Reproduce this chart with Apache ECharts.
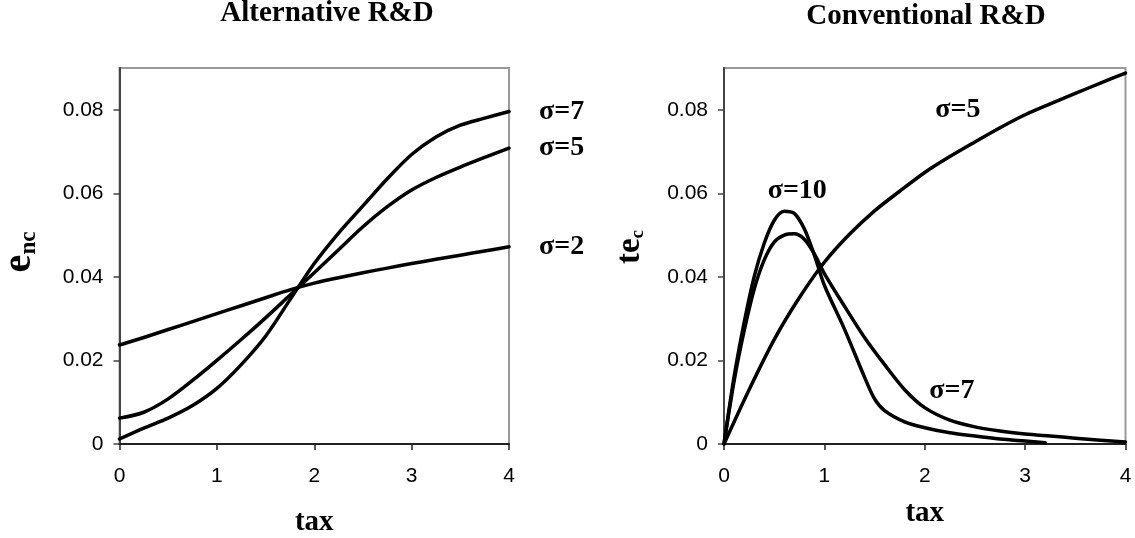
<!DOCTYPE html>
<html>
<head>
<meta charset="utf-8">
<script src="https://cdn.jsdelivr.net/npm/echarts@6/dist/echarts.min.js"></script>
<style>
html,body{margin:0;padding:0;background:#fff;}
#c{width:1135px;height:538px;}
</style>
</head>
<body>
<div id="c"></div>
<script>
// ---- data ----
const titles = ['Alternative R&D', 'Conventional R&D'];
const xTicks = [0, 1, 2, 3, 4];
const yTicks = [0, 0.02, 0.04, 0.06, 0.08];

// Left panel: e_nc vs tax
const altSigma2 = [[0,0.0237],[0.25,0.0255],[0.5,0.0274],[0.75,0.0293],[1,0.0312],[1.25,0.0331],[1.5,0.0350],[1.75,0.0369],[2,0.0385],[2.25,0.0398],[2.5,0.0410],[2.75,0.0421],[3,0.0432],[3.25,0.0442],[3.5,0.0452],[3.75,0.0462],[4,0.0472]];
const altSigma5 = [[0,0.0062],[0.25,0.0076],[0.5,0.0108],[0.75,0.0152],[1,0.0200],[1.25,0.0250],[1.5,0.0302],[1.75,0.0356],[2,0.0410],[2.25,0.0465],[2.5,0.0520],[2.75,0.0568],[3,0.0608],[3.25,0.0638],[3.5,0.0663],[3.75,0.0686],[4,0.0708]];
const altSigma7 = [[0,0.0012],[0.25,0.0038],[0.5,0.0062],[0.75,0.0092],[1,0.0133],[1.25,0.0190],[1.5,0.0258],[1.75,0.0345],[2,0.0432],[2.25,0.0505],[2.5,0.0570],[2.75,0.0635],[3,0.0693],[3.25,0.0735],[3.5,0.0763],[3.75,0.0780],[4,0.0796]];

// Right panel: te_c vs tax
const convSigma5 = [[0,0],[0.25,0.0130],[0.5,0.0250],[0.75,0.0350],[1,0.0435],[1.25,0.0502],[1.5,0.0558],[1.75,0.0605],[2,0.0650],[2.25,0.0688],[2.5,0.0723],[2.75,0.0757],[3,0.0788],[3.25,0.0814],[3.5,0.0839],[3.75,0.0864],[4,0.0888]];
const convSigma10 = [[0,0],[0.1,0.016],[0.2,0.029],[0.3,0.040],[0.4,0.048],[0.5,0.0535],[0.6,0.0557],[0.7,0.0552],[0.8,0.0515],[0.9,0.0452],[1.0,0.0380],[1.2,0.0275],[1.4,0.0160],[1.5,0.0108],[1.6,0.0080],[1.8,0.0053],[2.0,0.0039],[2.25,0.0027],[2.5,0.0019],[2.75,0.0012],[3.0,0.0007],[3.2,0.0003]];
const convSigma7 = [[0,0],[0.1,0.015],[0.2,0.027],[0.3,0.037],[0.4,0.044],[0.5,0.0483],[0.6,0.0500],[0.7,0.0503],[0.8,0.0490],[0.9,0.0455],[1.0,0.0408],[1.2,0.0330],[1.4,0.0255],[1.6,0.0190],[1.8,0.0130],[2.0,0.0087],[2.25,0.0057],[2.5,0.0041],[2.75,0.0031],[3.0,0.0024],[3.25,0.0019],[3.5,0.0014],[3.75,0.0009],[4.0,0.0005]];

// label anchor positions (data coords) for right panel
const convLabels = [
  {name:'σ=5', coord:[2.33, 0.080], series:0},
  {name:'σ=10', coord:[0.73, 0.0606], series:1},
  {name:'σ=7', coord:[2.27, 0.0128], series:2}
];

const SERIF = "'Liberation Serif','Times New Roman',serif";
const SANS = "'Liberation Sans',Arial,sans-serif";

function xAxis(gi, gap) {
  return {
    type:'value', gridIndex:gi, min:0, max:4, interval:1,
    name:'tax', nameLocation:'middle', nameGap:gap,
    nameTextStyle:{fontFamily:SERIF, fontWeight:'bold', fontSize:29, color:'#000'},
    axisLine:{show:true, lineStyle:{color:'#222', width:2}},
    axisTick:{show:true, length:6, lineStyle:{color:'#222', width:1.5}},
    axisLabel:{fontFamily:SANS, fontSize:21, color:'#000', margin:22},
    splitLine:{show:false}
  };
}
function yAxis(gi) {
  return {
    type:'value', gridIndex:gi, min:0, max:0.09,
    axisLine:{show:true, lineStyle:{color:'#444', width:2}},
    axisTick:{show:true, length:6, customValues:yTicks, lineStyle:{color:'#444', width:1.5}},
    axisLabel:{fontFamily:SANS, fontSize:21, color:'#000', margin:16, customValues:yTicks,
      formatter:v => String(+v.toFixed(2))},
    splitLine:{show:false}
  };
}
const lineBase = {type:'line', showSymbol:false, symbol:'none', smooth:0.3,
  lineStyle:{color:'#000', width:3.5, cap:'round', join:'round'}, itemStyle:{color:'#000'}};
const endLbl = txt => ({show:true, formatter:txt, distance:30,
  fontFamily:SERIF, fontWeight:'bold', fontSize:28, color:'#000'});

const rightSeries = [convSigma5, convSigma10, convSigma7].map((d,i) => {
  const lbls = convLabels.filter(l => l.series === i);
  return Object.assign({}, lineBase, {
    xAxisIndex:1, yAxisIndex:1, data:d,
    markPoint:{symbol:'circle', symbolSize:1, itemStyle:{color:'rgba(0,0,0,0)'},
      label:{show:true, position:'inside', fontFamily:SERIF, fontWeight:'bold', fontSize:28, color:'#000',
        formatter:p => p.name},
      data:lbls.map(l => ({name:l.name, coord:l.coord}))}
  });
});

const option = {
  backgroundColor:'#fff',
  animation:false,
  grid:[
    {left:119.5, top:68, width:389.5, height:376, outerBoundsMode:'none', containLabel:false, show:true, borderColor:'#999', borderWidth:2, backgroundColor:'transparent'},
    {left:724, top:68, width:401.5, height:376, outerBoundsMode:'none', containLabel:false, show:true, borderColor:'#999', borderWidth:2, backgroundColor:'transparent'}
  ],
  xAxis:[xAxis(0, 64), xAxis(1, 55)],
  yAxis:[yAxis(0), yAxis(1)],
  series:[
    Object.assign({}, lineBase, {xAxisIndex:0, yAxisIndex:0, data:altSigma2, endLabel:endLbl('σ=2')}),
    Object.assign({}, lineBase, {xAxisIndex:0, yAxisIndex:0, data:altSigma5, endLabel:endLbl('σ=5')}),
    Object.assign({}, lineBase, {xAxisIndex:0, yAxisIndex:0, data:altSigma7, endLabel:endLbl('σ=7')}),
    ...rightSeries
  ],
  graphic:[
    {type:'text', x:327, y:14, style:{text:titles[0], textAlign:'center', textVerticalAlign:'middle',
      font:"bold 29px 'Liberation Serif'", fill:'#000'}},
    {type:'text', x:926, y:17, style:{text:titles[1], textAlign:'center', textVerticalAlign:'middle',
      font:"bold 29px 'Liberation Serif'", fill:'#000'}},
    {type:'text', x:20, y:252, rotation:Math.PI/2, style:{text:'{m|e}{s|nc}', textAlign:'center', textVerticalAlign:'middle',
      rich:{m:{fontFamily:SERIF, fontWeight:'bold', fontSize:40, lineHeight:42, fill:'#000', verticalAlign:'middle'},
            s:{fontFamily:SERIF, fontWeight:'bold', fontSize:23, lineHeight:23, fill:'#000', verticalAlign:'bottom', padding:[8,0,0,0]}}}},
    {type:'text', x:630, y:247, rotation:Math.PI/2, style:{text:'{m|te}{s|c}', textAlign:'center', textVerticalAlign:'middle',
      rich:{m:{fontFamily:SERIF, fontWeight:'bold', fontSize:33, lineHeight:35, fill:'#000', verticalAlign:'middle'},
            s:{fontFamily:SERIF, fontWeight:'bold', fontSize:19, lineHeight:19, fill:'#000', verticalAlign:'bottom', padding:[8,0,0,0]}}}}
  ]
};
const chart = echarts.init(document.getElementById('c'), null, {renderer:'canvas'});
chart.setOption(option);
</script>
</body>
</html>
